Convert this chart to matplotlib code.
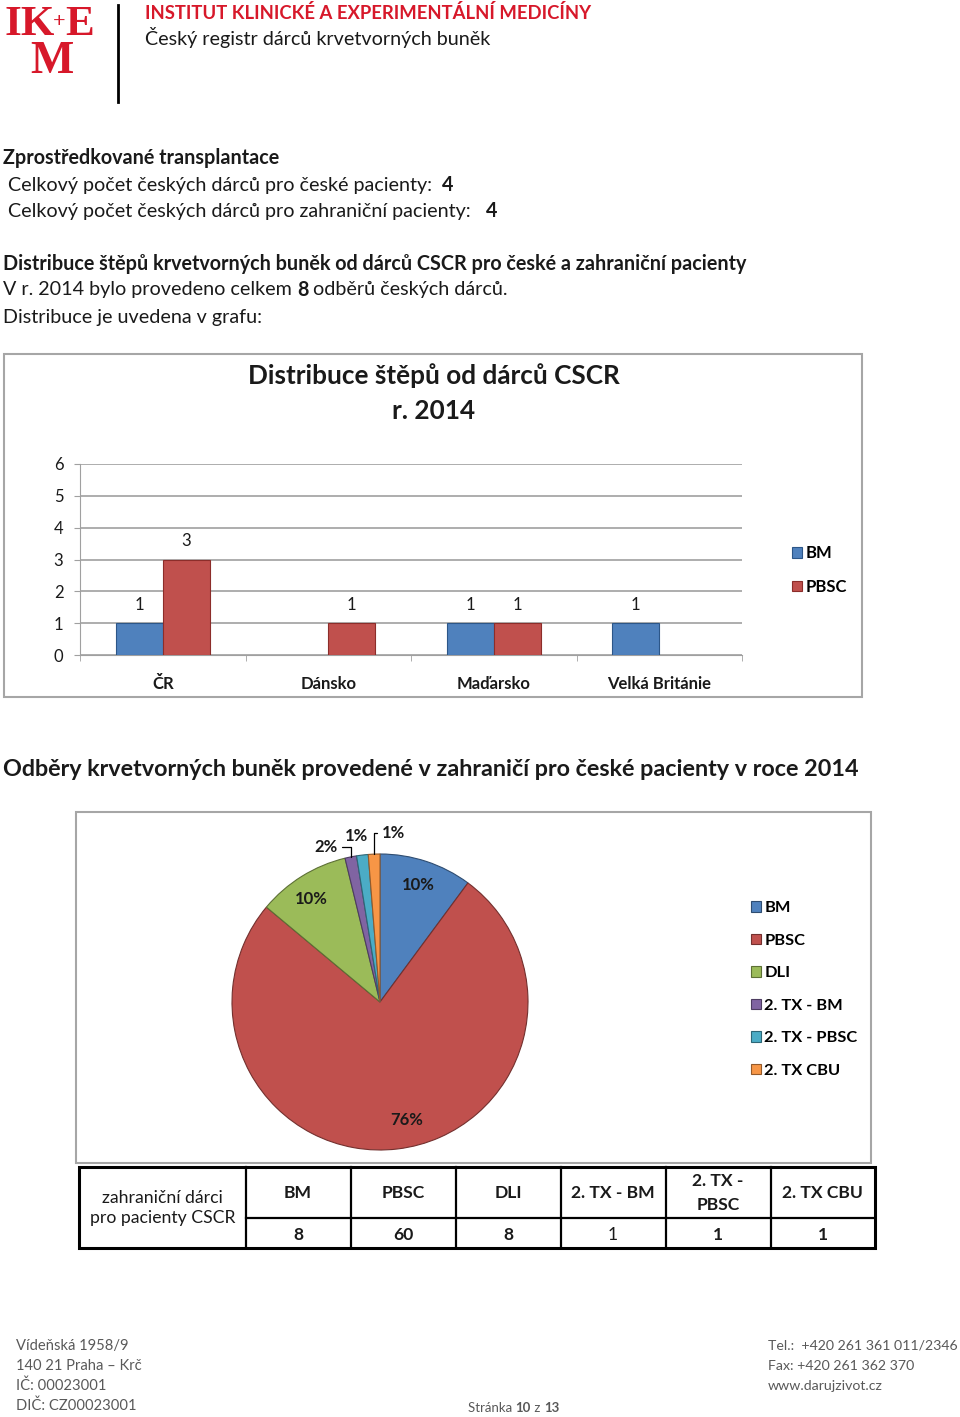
import matplotlib
matplotlib.use("Agg")
import matplotlib.pyplot as plt
import numpy as np
from matplotlib.patches import Rectangle

plt.rcParams['font.family'] = ['Lato', 'DejaVu Sans']

# ---------------- data ----------------
countries = ["ČR", "Dánsko", "Maďarsko", "Velká Británie"]
bm_counts = [1, 0, 1, 1]
pbsc_counts = [3, 1, 1, 0]
y_ticks = [0, 1, 2, 3, 4, 5, 6]

graft_types = ["BM", "PBSC", "DLI", "2. TX - BM", "2. TX - PBSC", "2. TX CBU"]
table_headers = ["BM", "PBSC", "DLI", "2. TX - BM", "2. TX -\nPBSC", "2. TX CBU"]
foreign_counts = [8, 60, 8, 1, 1, 1]
pie_pct_labels = ["10%", "76%", "10%", "2%", "1%", "1%"]

czech_for_czech = 4
czech_for_foreign = 4
total_collections = 8

BLUE, RED, GREEN, PURPLE, CYAN, ORANGE = "#4F81BD", "#C0504D", "#9BBB59", "#8064A2", "#4BACC6", "#F79646"
pie_colors = [BLUE, RED, GREEN, PURPLE, CYAN, ORANGE]
IKEM_RED = "#D7182A"
TXT = "#1a1a1a"

W, H = 960, 1417
fig = plt.figure(figsize=(9.6, 14.17), dpi=100)
bg = fig.add_axes([0, 0, 1, 1])
bg.set_xlim(0, W)
bg.set_ylim(H, 0)
bg.axis('off')
renderer = fig.canvas.get_renderer()


def fx(x, y, w, h):
    return [x / W, 1 - (y + h) / H, w / W, h / H]


def seq(x, y, parts, size, color=TXT, family=None, gap=0.0):
    for s, wt in parts:
        kw = {} if family is None else {'family': family}
        t = bg.text(x, y, s, fontsize=size, fontweight=wt, color=color, va='center', ha='left', **kw)
        bb = t.get_window_extent(renderer)
        x += bb.width + gap
    return x


# ---------------- header / logo ----------------
xx = 4
for s, sz, yy, g in [("IK", 31, 25, -1.0), ("+", 16, 22, -1.0), ("E", 31, 25, 0)]:
    t = bg.text(xx, yy, s, fontsize=sz, family='Liberation Serif', fontweight='bold', color=IKEM_RED,
                va='center', ha='left')
    xx += t.get_window_extent(renderer).width + g
bg.text(52, 62, "M", fontsize=33, family='Liberation Serif', fontweight='bold', color=IKEM_RED,
        va='center', ha='center')
bg.plot([118, 118], [5, 102], color='black', lw=2)
bg.text(145, 13, "INSTITUT KLINICKÉ A EXPERIMENTÁLNÍ MEDICÍNY", fontsize=13.3, fontweight='bold',
        color=IKEM_RED, va='center')
bg.text(145, 38, "Český registr dárců krvetvorných buněk", fontsize=14.2, color=TXT, va='center')

# ---------------- body text ----------------
BS = 14.2
bg.text(3, 158, "Zprostředkované transplantace", fontsize=BS, fontweight='bold', color=TXT, va='center')
seq(8, 185, [("Celkový počet českých dárců pro české pacienty:  ", 'normal'), (str(czech_for_czech), 'bold')], BS)
seq(8, 211, [("Celkový počet českých dárců pro zahraniční pacienty:   ", 'normal'), (str(czech_for_foreign), 'bold')], BS)
bg.text(3, 264, "Distribuce štěpů krvetvorných buněk od dárců CSCR pro české a zahraniční pacienty",
        fontsize=BS, fontweight='bold', color=TXT, va='center')
seq(3, 290, [("V r. 2014 bylo provedeno celkem ", 'normal'), (str(total_collections), 'bold'),
             (" odběrů českých dárců.", 'normal')], BS)
bg.text(3, 317, "Distribuce je uvedena v grafu:", fontsize=BS, color=TXT, va='center')

# ---------------- bar chart ----------------
bg.add_patch(Rectangle((4, 354), 858, 343, fill=False, edgecolor='#A6A6A6', lw=1.5))
bg.text(434, 376, "Distribuce štěpů od dárců CSCR", fontsize=18.8, fontweight='bold', color=TXT,
        ha='center', va='center')
bg.text(434, 411, "r. 2014", fontsize=18.8, fontweight='bold', color=TXT, ha='center', va='center')

ax = fig.add_axes(fx(80, 464, 662, 191))
ax.set_xlim(0, len(countries))
ax.set_ylim(0, 6)
xc = np.arange(len(countries)) + 0.5
bw = 0.284
for vals, off, col, ecol, name in [(bm_counts, -bw / 2, BLUE, "#2c5688", "BM"),
                                  (pbsc_counts, bw / 2, RED, "#8c2d2a", "PBSC")]:
    xs = [x + off for x, v in zip(xc, vals) if v > 0]
    vs = [v for v in vals if v > 0]
    bars = ax.bar(xs, vs, width=bw, color=col, edgecolor=ecol, lw=0.8, label=name, zorder=3)
    for b, v in zip(bars, vs):
        ax.annotate(str(v), (b.get_x() + b.get_width() / 2, v), xytext=(0, 13), textcoords='offset points',
                    ha='center', va='center', fontsize=12, color=TXT)
ax.set_yticks(y_ticks)
ax.set_yticklabels([str(t) for t in y_ticks], fontsize=12, color=TXT)
ax.grid(axis='y', color='#A0A0A0', lw=1.2, zorder=0)
ax.set_xticks(xc)
ax.set_xticklabels(countries, fontsize=12, fontweight='bold', color=TXT)
ax.set_xticks(np.arange(len(countries) + 1), minor=True)
ax.tick_params(axis='x', which='major', length=0, pad=15)
ax.tick_params(axis='x', which='minor', length=4, color='#A0A0A0', direction='out')
ax.tick_params(axis='y', length=4, color='#A0A0A0', direction='out', pad=8)
for s in ['top', 'right']:
    ax.spines[s].set_visible(False)
ax.spines['left'].set_color('#A0A0A0')
ax.spines['bottom'].set_color('#A0A0A0')
ax.patch.set_alpha(0)
leg = ax.legend(loc='upper left', bbox_to_anchor=(784 / W, 1 - 537 / H), bbox_transform=fig.transFigure,
                frameon=False, handlelength=0.6, handleheight=0.6, handletextpad=0.2, labelspacing=1.05,
                borderpad=0, prop={'weight': 'bold', 'size': 12})

# ---------------- pie section ----------------
bg.text(3, 769, "Odběry krvetvorných buněk provedené v zahraničí pro české pacienty v roce 2014",
        fontsize=16.8, fontweight='bold', color=TXT, va='center')
bg.add_patch(Rectangle((76, 812), 795, 351, fill=False, edgecolor='#A6A6A6', lw=1.5))

pax = fig.add_axes(fx(232, 854, 296, 296))
wedges, _ = pax.pie(foreign_counts, colors=pie_colors, startangle=90, counterclock=False, radius=1,
                    wedgeprops=dict(lw=0.8))
pax.set_xlim(-1, 1)
pax.set_ylim(-1, 1)
pax.set_aspect('auto')
pax.axis('off')
for w, c in zip(wedges, pie_colors):
    r, g, b = matplotlib.colors.to_rgb(c)
    w.set_edgecolor((r * 0.6, g * 0.6, b * 0.6))

inside_r = [0.83, 0.82, 0.84]
inside_shift = [(0, 0), (9, 2), (-2, -2)]
offsets = {3: (-18, 7), 4: (-4.3, 14), 5: (13.7, 15)}
for i, (w, lab) in enumerate(zip(wedges, pie_pct_labels)):
    ang = np.deg2rad((w.theta1 + w.theta2) / 2)
    if i < 3:
        r = inside_r[i]
        pax.annotate(lab, (r * np.cos(ang), r * np.sin(ang)), xytext=inside_shift[i],
                     textcoords='offset points', ha='center', va='center', fontsize=12,
                     fontweight='bold', color=TXT)
    elif i == 4:
        pax.annotate(lab, (np.cos(ang), np.sin(ang)), xytext=offsets[i], textcoords='offset points',
                     ha='center', va='center', fontsize=12, fontweight='bold', color=TXT,
                     annotation_clip=False)
    else:
        pax.annotate(lab, (np.cos(ang), np.sin(ang)), xytext=offsets[i], textcoords='offset points',
                     ha='center', va='center', fontsize=12, fontweight='bold', color=TXT,
                     annotation_clip=False,
                     arrowprops=dict(arrowstyle='-', color='black', lw=0.9, shrinkA=1, shrinkB=0,
                                     connectionstyle='angle,angleA=0,angleB=90,rad=0'))

pleg = pax.legend(wedges, graft_types, loc='upper left', bbox_to_anchor=(743 / W, 1 - 893 / H),
                  bbox_transform=fig.transFigure, frameon=False, handlelength=0.6, handleheight=0.6,
                  handletextpad=0.2, labelspacing=1.13, borderpad=0,
                  prop={'weight': 'bold', 'size': 11.8})

# ---------------- table ----------------
tx0, tx1, ty0, ty1, tym = 79, 875, 1167, 1248, 1218
col_edges = [79, 245.5, 350.5, 455.5, 560.5, 665.5, 770.5, 875]
bg.add_patch(Rectangle((tx0, ty0), tx1 - tx0, ty1 - ty0, fill=False, edgecolor='black', lw=2.2))
for xe in col_edges[1:-1]:
    bg.plot([xe, xe], [ty0, ty1], color='black', lw=1.6)
bg.plot([col_edges[1], tx1], [tym, tym], color='black', lw=1.6)
bg.text((col_edges[0] + col_edges[1]) / 2, 1208, "zahraniční dárci\npro pacienty CSCR", fontsize=12.7,
        color=TXT, ha='center', va='center', linespacing=1.35)
for i, (hd, v) in enumerate(zip(table_headers, foreign_counts)):
    cx = (col_edges[i + 1] + col_edges[i + 2]) / 2
    bg.text(cx, 1193, hd, fontsize=12.6, fontweight='bold', color=TXT, ha='center', va='center',
            linespacing=1.6)
    bg.text(cx, 1235, str(v), fontsize=12.6, fontweight=('normal' if i == 3 else 'bold'), color=TXT,
            ha='center', va='center')

# ---------------- footer ----------------
FG = "#595959"
for i, s in enumerate(["Vídeňská 1958/9", "140 21 Praha – Krč", "IČ: 00023001", "DIČ: CZ00023001"]):
    bg.text(16, 1346 + 20 * i, s, fontsize=10.6, color=FG, va='center')
for i, s in enumerate(["Tel.:  +420 261 361 011/2346", "Fax: +420 261 362 370", "www.darujzivot.cz"]):
    bg.text(768, 1346 + 20 * i, s, fontsize=10.2, color=FG, va='center')
seq(468, 1408, [("Stránka ", 'normal'), ("10", 'bold'), (" z ", 'normal'), ("13", 'bold')], 9.5, color=FG)

fig.savefig("out.png", dpi=100)
